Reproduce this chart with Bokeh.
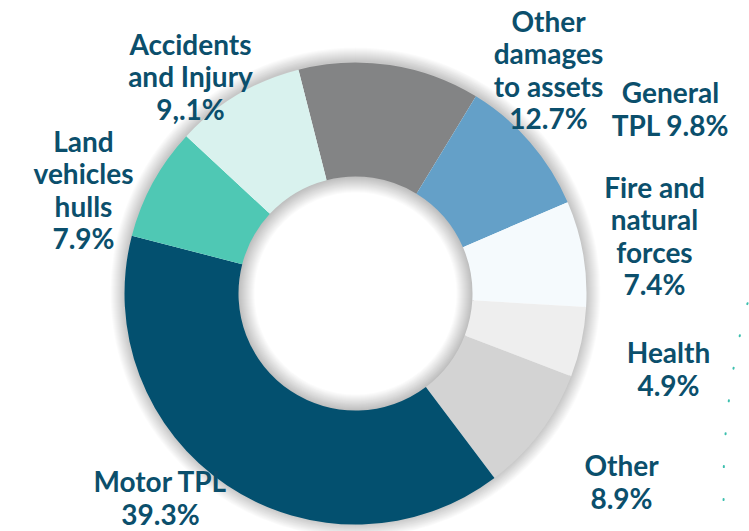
import numpy as np
from bokeh.plotting import figure
from bokeh.models import Range1d, ColumnDataSource
from bokeh.core.properties import value
from bokeh.embed import file_html
from bokeh.resources import INLINE

# ---- data (clockwise order, starting from the top) ----
categories = ["Other damages to assets", "General TPL", "Fire and natural forces",
              "Health", "Other", "Motor TPL", "Land vehicles hulls", "Accidents and Injury"]
shares = [12.7, 9.8, 7.4, 4.9, 8.9, 39.3, 7.9, 9.1]
label_texts = ["Other\ndamages\nto assets\n12.7%", "General\nTPL 9.8%",
               "Fire and\nnatural\nforces\n7.4%", "Health\n4.9%", "Other\n8.9%",
               "Motor TPL\n39.3%", "Land\nvehicles\nhulls\n7.9%", "Accidents\nand Injury\n9,.1%"]
colors = ["#838485", "#64a0c8", "#f5fafd", "#eeeeee", "#d3d3d3", "#03506f", "#4fc8b4", "#d9f2ee"]

# ---- layout ----
W, H = 749, 531
CX, CY = 355, H - 293
R_OUT, R_IN = 231, 117
START_DEG = 104.3  # math angle of the first slice's start edge
# label block centres (page-pixel layout, converted below)
label_pos_page = [(548, 69), (670, 108), (654, 235), (668, 368),
                  (621, 481), (160, 497), (83, 189), (190, 76)]
TEXT_COLOR = "#0b4f6c"

frac = np.array(shares) / np.sum(shares)
ends = np.deg2rad(START_DEG) - 2 * np.pi * np.cumsum(frac)
starts = np.concatenate([[np.deg2rad(START_DEG)], ends[:-1]])

p = figure(width=W, height=H, x_range=Range1d(0, W), y_range=Range1d(0, H),
           output_backend="svg", toolbar_location=None, min_border=0)
p.axis.visible = False
p.grid.visible = False
p.outline_line_color = None
p.background_fill_color = "white"

# soft shadow around the ring and inside the hole
for k in range(14):
    p.annular_wedge(x=CX, y=CY + 1, inner_radius=R_OUT - 2, outer_radius=R_OUT + 1 + k,
                    start_angle=0, end_angle=2 * np.pi, fill_color="#000000",
                    fill_alpha=0.014, line_color=None)
for k in range(16):
    p.annular_wedge(x=CX, y=CY, inner_radius=R_IN - 1 - k, outer_radius=R_IN + 2,
                    start_angle=0, end_angle=2 * np.pi, fill_color="#000000",
                    fill_alpha=0.014, line_color=None)

src = ColumnDataSource(dict(cat=categories, share=shares, start=starts, end=ends, color=colors))
p.annular_wedge(x=CX, y=CY, inner_radius=R_IN, outer_radius=R_OUT,
                start_angle="start", end_angle="end", direction="clock",
                fill_color="color", line_color=None, source=src)

lx = [px for px, py in label_pos_page]
ly = [H - py for px, py in label_pos_page]
p.text(x=lx, y=ly, text=label_texts, text_align="center", text_baseline="middle",
       text_font=value("Lato"), text_font_style="bold", text_font_size="28px",
       text_color=TEXT_COLOR, text_line_height=0.95)

# decorative dotted arc at the right edge
p.arc(x=[723 + 726], y=[H - 488], radius=726,
      start_angle=np.deg2rad(160), end_angle=np.deg2rad(184),
      line_color="#3cbfae", line_width=2, line_dash="1 32", line_cap="round")

open("out.html", "w").write(file_html(p, INLINE))
